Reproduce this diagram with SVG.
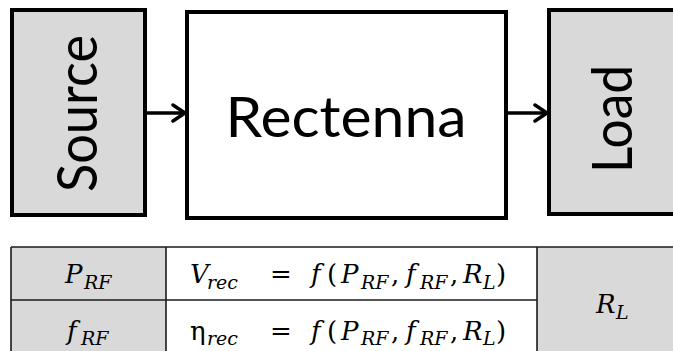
<svg xmlns="http://www.w3.org/2000/svg" width="673" height="351" viewBox="0 0 673 351">
<style>
.box{stroke:#000;stroke-width:4;stroke-linejoin:miter}
.gray{fill:#d9d9d9}
.white{fill:#fff}
.big{font-family:Lato,"Open Sans",sans-serif;font-size:56px;fill:#000}
.conn{stroke:#000;stroke-width:3.5;fill:none}
.cell{stroke:#1a1a1a;stroke-width:1.6}
.m{font-family:"DejaVu Serif","Liberation Serif",serif;font-size:26px;fill:#000;font-style:italic}
.u{font-style:normal}
.s{font-size:19px}
</style>
<defs>
<marker id="arr" markerUnits="userSpaceOnUse" markerWidth="20" markerHeight="20" refX="15" refY="10" orient="auto">
<path d="M3,2 L15,10 L3,18" fill="none" stroke="#000" stroke-width="3.5" stroke-linecap="round"/>
</marker>
</defs>
<rect width="673" height="351" fill="#fff"/>
<g id="source">
<rect class="box gray" x="12" y="10" width="133" height="205"/>
<text class="big" text-anchor="middle" transform="translate(96.5,113.5) rotate(-90)" textLength="157" lengthAdjust="spacingAndGlyphs">Source</text>
</g>
<g id="rectenna">
<rect class="box white" x="187" y="12" width="319" height="206"/>
<text class="big" x="346" y="137" text-anchor="middle" textLength="241" lengthAdjust="spacingAndGlyphs">Rectenna</text>
</g>
<g id="load">
<rect class="box gray" x="549" y="10" width="140" height="204"/>
<text class="big" text-anchor="middle" transform="translate(632,119) rotate(-90)" textLength="108" lengthAdjust="spacingAndGlyphs">Load</text>
</g>
<g id="connectors">
<line class="conn" x1="145" y1="113" x2="185" y2="113" marker-end="url(#arr)"/>
<line class="conn" x1="506" y1="113" x2="547" y2="113" marker-end="url(#arr)"/>
</g>
<g id="table">
<rect class="gray" x="11" y="247" width="155" height="110"/>
<rect class="white" x="166" y="247" width="371" height="110"/>
<rect class="gray" x="537" y="247" width="140" height="110"/>
<line class="cell" x1="11" y1="247" x2="680" y2="247" stroke-width="2.2"/>
<line class="cell" x1="11" y1="300" x2="537" y2="300"/>
<line class="cell" x1="11" y1="247" x2="11" y2="360"/>
<line class="cell" x1="166" y1="247" x2="166" y2="360"/>
<line class="cell" x1="537" y1="247" x2="537" y2="360"/>
</g>
<g id="cell-prf">
<text class="m" y="283"><tspan x="65">P</tspan><tspan class="s" x="84" y="289">RF</tspan></text>
</g>
<g id="cell-frf">
<text class="m" y="340"><tspan x="67">f</tspan><tspan class="s" x="81" y="345">RF</tspan></text>
</g>
<g id="cell-vrec">
<text class="m" y="283"><tspan x="190">V</tspan><tspan class="s" x="207" y="289">rec</tspan><tspan class="u" x="270" y="283">=</tspan><tspan x="311">f</tspan><tspan class="u" x="327">(</tspan><tspan x="341">P</tspan><tspan class="s" x="361" y="289">RF</tspan><tspan class="u" x="391" y="283">,</tspan><tspan x="406">f</tspan><tspan class="s" x="420" y="289">RF</tspan><tspan class="u" x="450" y="283">,</tspan><tspan x="463">R</tspan><tspan class="s" x="483" y="289">L</tspan><tspan class="u" x="496" y="283">)</tspan></text>
</g>
<g id="cell-eta">
<text class="m" y="340"><tspan class="u" x="190">η</tspan><tspan class="s" x="207" y="345">rec</tspan><tspan class="u" x="270" y="340">=</tspan><tspan x="311">f</tspan><tspan class="u" x="327">(</tspan><tspan x="341">P</tspan><tspan class="s" x="361" y="345">RF</tspan><tspan class="u" x="391" y="340">,</tspan><tspan x="406">f</tspan><tspan class="s" x="420" y="345">RF</tspan><tspan class="u" x="450" y="340">,</tspan><tspan x="463">R</tspan><tspan class="s" x="483" y="345">L</tspan><tspan class="u" x="496" y="340">)</tspan></text>
</g>
<g id="cell-rl">
<text class="m" y="313"><tspan x="596">R</tspan><tspan class="s" x="616" y="319">L</tspan></text>
</g>
</svg>
